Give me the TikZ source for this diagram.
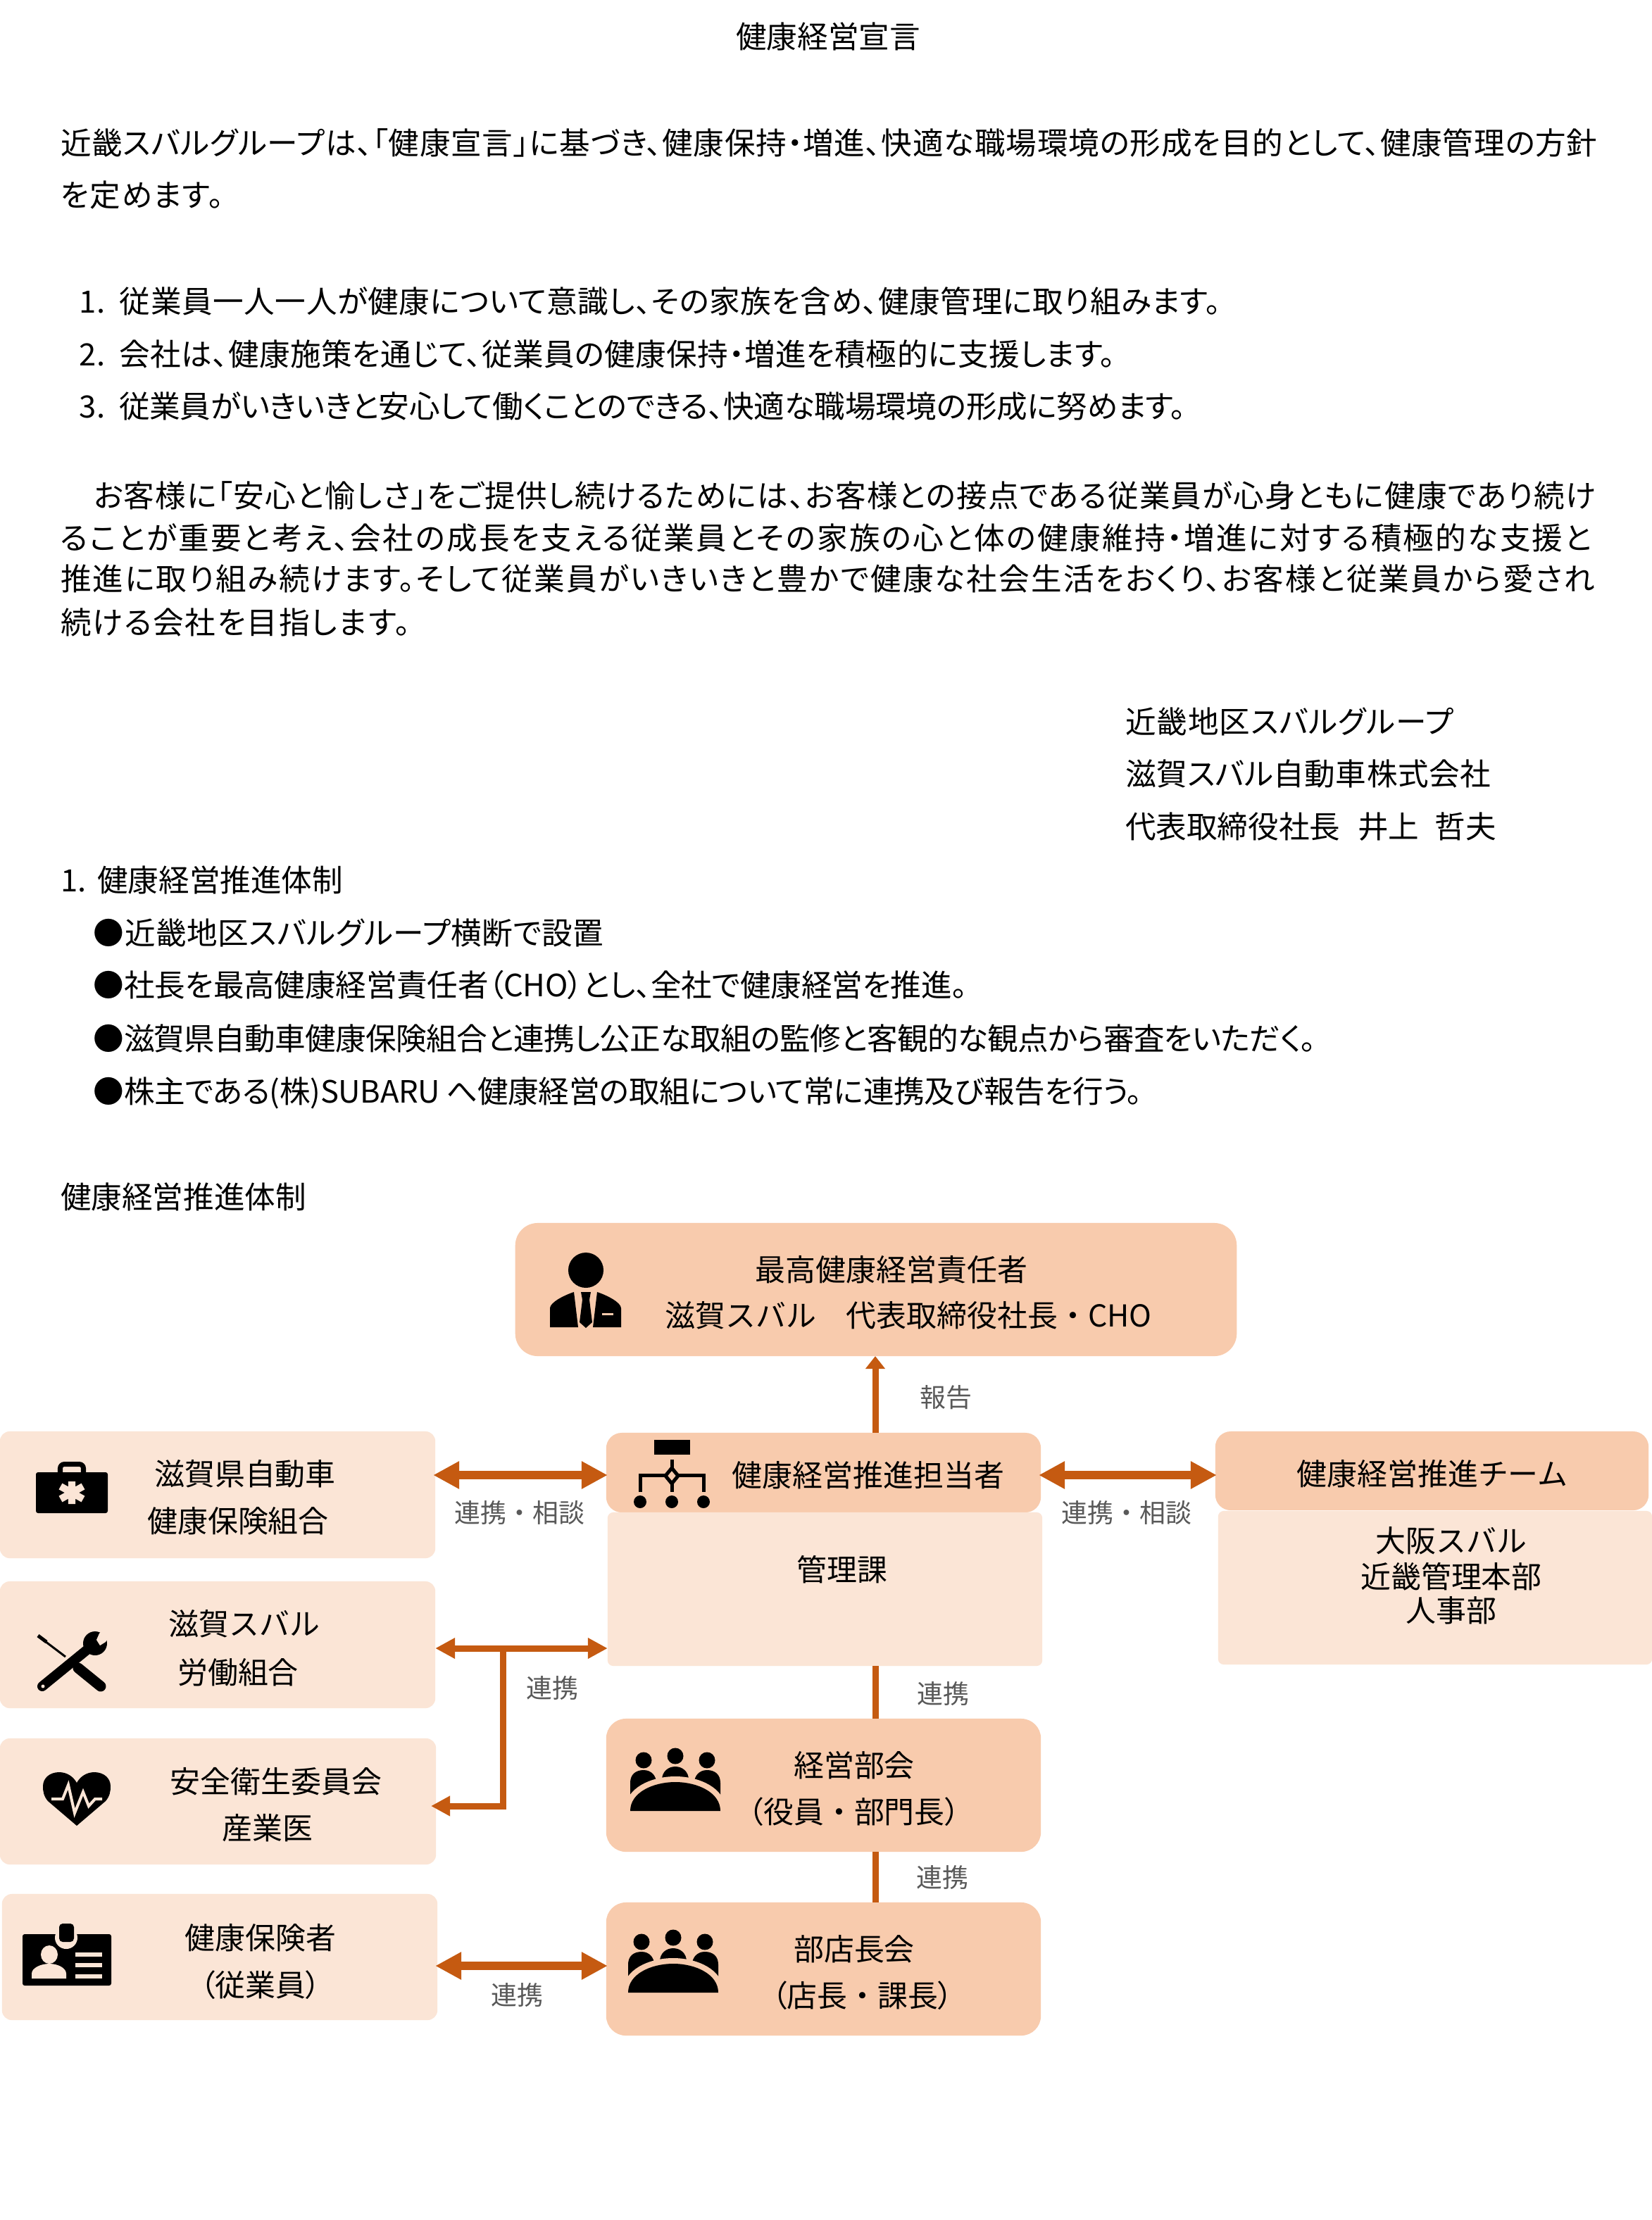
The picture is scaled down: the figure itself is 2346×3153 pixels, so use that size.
\documentclass[tikz,border=0pt]{standalone}
\usepackage{fontspec}
\setmainfont{Noto Sans CJK JP}[RawFeature={+palt}]
\newfontfamily\fullset{Noto Sans CJK JP}
\usetikzlibrary{arrows.meta}
\definecolor{deepfill}{HTML}{F8CBAD}
\definecolor{softfill}{HTML}{FBE5D6}
\definecolor{linkcol}{HTML}{C55A11}
\definecolor{notecol}{HTML}{595959}
\newcommand{\brk}[1]{{\normalfont #1}}
\tikzset{
  bodytext/.style={anchor=west,inner sep=0pt,outer sep=0pt,text height=10.9pt,text depth=1.5pt,font=\fontsize{12.4}{14}\selectfont},
  gap/.style={font=\fontsize{12.4}{14}\selectfont\addfontfeature{LetterSpace=#1}},
  boxtext/.style={anchor=center,inner sep=0pt,outer sep=0pt,text height=10.9pt,text depth=1.5pt,font=\fontsize{12.2}{14}\selectfont\fullset},
  notetext/.style={anchor=center,inner sep=0pt,outer sep=0pt,text=notecol,text height=9.2pt,text depth=1.3pt,font=\fontsize{10.5}{12}\selectfont\fullset},
  deepbox/.style={shape=rectangle,fill=deepfill,inner sep=0pt,outer sep=0pt,rounded corners=.28cm},
  softbox/.style={shape=rectangle,fill=softfill,inner sep=0pt,outer sep=0pt,rounded corners=.14cm},
  widelink/.style={draw=linkcol,line width=.12cm,shorten <=-.03cm,shorten >=-.02cm,{Triangle[width=.37cm,length=.37cm]}-{Triangle[width=.37cm,length=.37cm]}},
  thinlink/.style={draw=linkcol,line width=.09cm},
  peoplemark/.pic={
    \fill (0,-78) circle (11.5);
    \fill (-45,-72) circle (11.5);
    \fill (45,-72) circle (11.5);
    \fill (-64,-20) -- (-64,-40) .. controls (-64,-52) and (-56,-58) .. (-45,-58) .. controls (-34,-58) and (-27,-50) .. (-27,-40) -- (-27,-30) -- cycle;
    \fill (64,-20) -- (64,-40) .. controls (64,-52) and (56,-58) .. (45,-58) .. controls (34,-58) and (27,-50) .. (27,-40) -- (27,-30) -- cycle;
    \fill (-19,-40) -- (-19,-44) .. controls (-19,-56) and (-10,-63) .. (0,-63) .. controls (10,-63) and (19,-56) .. (19,-44) -- (19,-40) -- cycle;
    \draw[draw=deepfill,line width=.16cm] (-64,0) .. controls (-64,-26) and (-32,-41) .. (0,-41) .. controls (32,-41) and (64,-26) .. (64,0);
    \fill (-64,0) .. controls (-64,-26) and (-32,-41) .. (0,-41) .. controls (32,-41) and (64,-26) .. (64,0) -- cycle;
  }
}
\begin{document}
\begin{tikzpicture}[x=.01cm,y=-.01cm]
\useasboundingbox (0,0) rectangle (2346,3153);
\fill[white] (0,0) rectangle (2346,3153);

\node[boxtext] (title) at (1176,52) {\normalfont\fontsize{12.4}{14}\selectfont 健康経営宣言};
\node[bodytext,gap=1.8] (intro1) at (86,203) {近畿スバルグループは、「健康宣言」に基づき、健康保持・増進、快適な職場環境の形成を目的として、健康管理の方針};
\node[bodytext,gap=3.2] (intro2) at (86,277) {を定めます。};
\node[bodytext,gap=1.4] (item1) at (113,428) {1.\hspace{.2cm}従業員一人一人が健康について意識し、その家族を含め、健康管理に取り組みます。};
\node[bodytext,gap=1.0] (item2) at (113,503) {2.\hspace{.2cm}会社は、健康施策を通じて、従業員の健康保持・増進を積極的に支援します。};
\node[bodytext,gap=-.5] (item3) at (113,577) {3.\hspace{.2cm}従業員がいきいきと安心して働くことのできる、快適な職場環境の形成に努めます。};
\node[bodytext,gap=2.8] (para1) at (133,704) {お客様に「安心と愉しさ」をご提供し続けるためには、お客様との接点である従業員が心身ともに健康であり続け};
\node[bodytext,gap=5.4] (para2) at (86,764) {ることが重要と考え、会社の成長を支える従業員とその家族の心と体の健康維持・増進に対する積極的な支援と};
\node[bodytext,gap=5.1] (para3) at (86,822) {推進に取り組み続けます。そして従業員がいきいきと豊かで健康な社会生活をおくり、お客様と従業員から愛され};
\node[bodytext,gap=4.7] (para4) at (86,884) {続ける会社を目指します。};
\node[bodytext,gap=2.2] (sign1) at (1598,1025) {近畿地区スバルグループ};
\node[bodytext,gap=1.1] (sign2) at (1598,1099) {滋賀スバル自動車株式会社};
\node[bodytext] (sign3) at (1598,1174) {代表取締役社長\hspace{.25cm}井上\hspace{.22cm}哲夫};
\node[bodytext] (head1) at (86,1250) {1.\hspace{.16cm}健康経営推進体制};
\node[bodytext,gap=1.4] (bull1) at (133,1325) {●近畿地区スバルグループ横断で設置};
\node[bodytext,gap=-.5] (bull2) at (133,1399) {●社長を最高健康経営責任者（CHO）とし、全社で健康経営を推進。};
\node[bodytext,gap=-1.4] (bull3) at (133,1475) {●滋賀県自動車健康保険組合と連携し公正な取組の監修と客観的な観点から審査をいただく。};
\node[bodytext,gap=-.8] (bull4) at (133,1550) {●株主である(株)SUBARU へ健康経営の取組について常に連携及び報告を行う。};
\node[bodytext] (head2) at (86,1700) {健康経営推進体制};

\node[deepbox,minimum width=10.24cm,minimum height=1.89cm,rounded corners=.32cm] (cho) at (1244,1831.5) {};
\node[deepbox,minimum width=6.17cm,minimum height=1.13cm,rounded corners=.22cm] (tantou) at (1169.5,2091.5) {};
\node[softbox,minimum width=6.17cm,minimum height=2.18cm,rounded corners=.08cm] (kanri) at (1171.5,2257) {};
\node[deepbox,minimum width=6.15cm,minimum height=1.12cm,rounded corners=.22cm] (team) at (2033.5,2089) {};
\node[softbox,minimum width=6.16cm,minimum height=2.18cm,rounded corners=.08cm] (osaka) at (2038,2255) {};
\node[softbox,minimum width=6.18cm,minimum height=1.80cm] (kenpo) at (309,2123) {};
\node[softbox,minimum width=6.18cm,minimum height=1.80cm] (roso) at (309,2336) {};
\node[softbox,minimum width=6.19cm,minimum height=1.79cm] (anzen) at (309.5,2558.5) {};
\node[softbox,minimum width=6.18cm,minimum height=1.79cm] (hoken) at (312,2779.5) {};
\node[deepbox,minimum width=6.17cm,minimum height=1.89cm] (keiei) at (1169.5,2535.5) {};
\node[deepbox,minimum width=6.17cm,minimum height=1.89cm] (buten) at (1169.5,2796.5) {};

\node[boxtext] (cho1) at (1266,1803) {最高健康経営責任者};
\node[boxtext] (cho2) at (1290,1868) {滋賀スバル　代表取締役社長・CHO};
\node[boxtext] (tantou1) at (1233,2095) {健康経営推進担当者};
\node[boxtext] (kanri1) at (1196,2229) {管理課};
\node[boxtext] (team1) at (2034,2093) {健康経営推進チーム};
\node[boxtext] (osaka1) at (2061,2188) {大阪スバル};
\node[boxtext] (osaka2) at (2061,2239) {近畿管理本部};
\node[boxtext] (osaka3) at (2061,2287) {人事部};
\node[boxtext] (kenpo1) at (348,2093) {滋賀県自動車};
\node[boxtext] (kenpo2) at (338,2160) {健康保険組合};
\node[boxtext] (roso1) at (347,2306) {滋賀スバル};
\node[boxtext] (roso2) at (338,2375) {労働組合};
\node[boxtext] (anzen1) at (392,2530) {安全衛生委員会};
\node[boxtext] (anzen2) at (380,2596) {産業医};
\node[boxtext] (hoken1) at (370,2752) {健康保険者};
\node[boxtext] (hoken2) at (370,2819) {\brk{（}従業員\brk{）}};
\node[boxtext] (keiei1) at (1213,2507) {経営部会};
\node[boxtext] (keiei2) at (1213,2573) {\brk{（}役員・部門長\brk{）}};
\node[boxtext] (buten1) at (1213,2768) {部店長会};
\node[boxtext] (buten2) at (1225,2834) {\brk{（}店長・課長\brk{）}};

\coordinate (linkrow) at (740,2095);
\coordinate (spine) at (1243,2200);
\coordinate (brjoin) at (714,2341);
\coordinate (brfoot) at (714,2565);
\coordinate (brtip) at (612,2565);
\coordinate (lowrow) at (740,2792);

\draw[thinlink,-{Triangle[width=.27cm,length=.18cm]}] (tantou.north -| spine) -- (cho.south -| spine);
\draw[widelink] (kenpo.east |- linkrow) -- (tantou.west |- linkrow);
\draw[widelink] (tantou.east |- linkrow) -- (team.west |- linkrow);
\draw[thinlink,{Triangle[width=.28cm,length=.28cm]}-{Triangle[width=.28cm,length=.28cm]}] (roso.east |- brjoin) -- (kanri.west |- brjoin);
\draw[thinlink,-{Triangle[width=.27cm,length=.27cm]},line join=miter] (brjoin) -- (brfoot) -- (brtip);
\draw[thinlink] (kanri.south -| spine) -- (keiei.north -| spine);
\draw[thinlink] (keiei.south -| spine) -- (buten.north -| spine);
\draw[widelink] (hoken.east |- lowrow) -- (buten.west |- lowrow);

\node[notetext] (note1) at (738,2149) {連携・相談};
\node[notetext] (note2) at (1600,2149) {連携・相談};
\node[notetext] (note3) at (1343,1985) {報告};
\node[notetext] (note4) at (784,2398) {連携};
\node[notetext] (note5) at (1339,2406) {連携};
\node[notetext] (note6) at (1338,2667) {連携};
\node[notetext] (note7) at (734,2834) {連携};

% person
\fill (832,1804) circle (25);
\fill (781,1885) -- (781,1858) .. controls (781,1850) and (800,1840) .. (815,1835) -- (821,1885) -- cycle;
\fill (882,1885) -- (882,1858) .. controls (882,1850) and (863,1840) .. (848,1835) -- (842,1885) -- cycle;
\fill (825,1835) -- (839,1835) -- (837,1846) -- (841,1878) -- (832,1886) -- (823,1878) -- (827,1846) -- cycle;
\fill[deepfill] (855,1865) rectangle (871,1868);

% bag
\draw[line width=.07cm,rounded corners=.06cm] (85.5,2093) -- (85.5,2079.5) -- (118.5,2079.5) -- (118.5,2093);
\fill[rounded corners=.03cm] (51,2091) rectangle (153,2149);
\draw[softfill,line width=.10cm] (102,2104) -- (102,2136) (86,2111) -- (118,2129) (86,2129) -- (118,2111);

% org chart
\fill (929,2045) rectangle (980,2066);
\draw[line width=.05cm] (954,2073) -- (954,2119);
\draw[line width=.05cm] (909,2119) -- (909,2095) -- (999,2095) -- (999,2119);
\draw[line width=.05cm,fill=deepfill] (954,2085) -- (963,2096) -- (954,2107) -- (945,2096) -- cycle;
\fill (909,2133) circle (9);
\fill (954,2133) circle (9);
\fill (999,2133) circle (9);

% tools
\draw[line width=.05cm] (54,2323) -- (66,2332);
\draw[line width=.03cm] (64,2331) -- (93,2353);
\draw[line width=.15cm,line cap=round] (111,2369) -- (143,2395);
\draw[line width=.14cm,line cap=round] (60,2395) -- (125,2342);
\fill (135,2334) circle (17);
\fill[softfill] (141,2320) -- (137,2329) -- (142,2337) -- (150,2332) -- (157,2321) -- (147,2313) -- cycle;
\fill[softfill] (61,2395) circle (2.5);

% heart
\fill (109,2593) -- (68,2558) .. controls (62,2551) and (61,2544) .. (61,2537) .. controls (61,2525) and (71,2517) .. (84,2517) .. controls (95,2517) and (104,2523) .. (109,2532) .. controls (114,2523) and (123,2517) .. (134,2517) .. controls (147,2517) and (157,2525) .. (157,2537) .. controls (157,2544) and (156,2551) .. (150,2558) -- cycle;
\draw[softfill,line width=.04cm] (73,2555) -- (89,2555) -- (97,2535) -- (106,2575) -- (118,2545) -- (126,2565) -- (135,2555) -- (145,2555);

% badge
\fill[rounded corners=.03cm] (32,2747) rectangle (158,2820);
\fill[softfill] (94,2752) circle (16);
\fill[rounded corners=.05cm] (84,2732) rectangle (105,2758);
\fill[softfill] (70,2776) ellipse (12 and 13);
\fill[softfill] (45,2810) -- (45,2803) .. controls (45,2795) and (58,2789) .. (70,2789) .. controls (82,2789) and (94,2795) .. (94,2803) -- (94,2810) -- cycle;
\fill[softfill] (107,2773) rectangle (145,2779);
\fill[softfill] (107,2788) rectangle (145,2794);
\fill[softfill] (107,2804) rectangle (145,2810);

\pic at (959,2572) {peoplemark};
\pic at (956,2830) {peoplemark};
\end{tikzpicture}
\end{document}
